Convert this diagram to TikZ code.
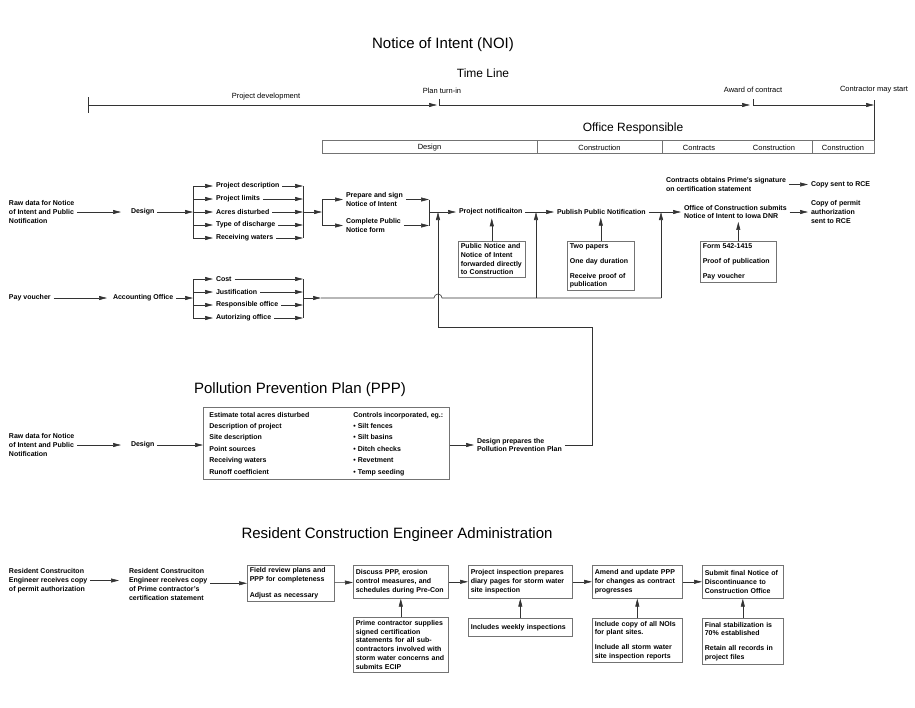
\documentclass[tikz,border=0pt]{standalone}
\usepackage{fontspec}
\setmainfont{Liberation Sans}
\usetikzlibrary{arrows.meta}

\newcommand\flowfont{\fontsize{7}{8.7}\selectfont\bfseries}
\newcommand\timefont{\fontsize{7.5}{9}\selectfont}

\tikzset{
  flow/.style={font=\flowfont, align=left, inner sep=1pt, outer sep=2pt, anchor=west},
  infobox/.style={draw=black!55, line width=0.6pt, font=\flowfont, align=left, inner sep=2.5pt, anchor=north west, text width=#1},
  arrowlink/.style={draw=black!80, line width=0.6pt, -{Triangle[length=8pt,width=4pt]}},
  plainlink/.style={draw=black!80, line width=0.6pt},
  headline/.style={font=\fontsize{15}{18}\selectfont, inner sep=0pt},
  subhead/.style={font=\fontsize{12}{14}\selectfont, inner sep=0pt},
  timelabel/.style={font=\timefont, inner sep=0pt},
}

\begin{document}
\begin{tikzpicture}[x=1pt,y=-1pt]
\useasboundingbox (0,0) rectangle (915,707);

\node[headline] (noi) at (443,45) {Notice of Intent (NOI)};
\node[subhead] (tl) at (483,73) {Time Line};
\node[subhead] (resp) at (633,128) {Office Responsible};

\coordinate (t0) at (88,105);
\coordinate (t1) at (439,105);
\coordinate (t2) at (753,105);
\coordinate (t3) at (874,105);
\draw[plainlink] (88,97) -- (88,113);
\draw[plainlink] (439,99) -- (t1);
\draw[plainlink] (753,99) -- (t2);
\draw[plainlink] (874,100) -- (874,140);
\draw[arrowlink] (t0) -- (437,105);
\draw[arrowlink] (t1) -- (750,105);
\draw[arrowlink] (t2) -- (t3);
\node[timelabel] (dev) at (266,97) {Project development};
\node[timelabel] (turnin) at (442,91) {Plan turn-in};
\node[timelabel] (award) at (753,90) {Award of contract};
\node[timelabel] (start) at (874,90) {Contractor may start};

\draw[plainlink, draw=black!55] (322,140) rectangle (874,153);
\foreach \x in {537,662,812} \draw[plainlink, draw=black!55] (\x,140) -- (\x,153);
\foreach \x/\t [count=\i] in {429.5/Design,599.5/Construction,699/Contracts,774/Construction,843/Construction}
  \node[timelabel] (cell\i) at (\x,148) {\t};

\node[flow] (raw) at (6,212) {Raw data for Notice\\of Intent and Public\\Notification};
\node[flow] (des) at (128,212) {Design};
\draw[arrowlink, shorten >=7pt] (raw) -- (des);
\draw[arrowlink] (des) -- (193,212);
\foreach \t [count=\i] in {Project description,Project limits,Acres disturbed,Type of discharge,Receiving waters} {
  \node[flow] (dat\i) at (213,173+13*\i) {\t};
  \draw[arrowlink] (193,173+13*\i) -- (dat\i);
  \draw[arrowlink] (dat\i) -- (303,173+13*\i);
}
\draw[plainlink] (193,186) -- (193,238);
\draw[plainlink] (303,186) -- (303,238);
\draw[arrowlink] (303,212) -- (322,212);
\draw[plainlink] (322,199.5) -- (322,225.5);
\node[flow] (prep) at (343,199.5) {Prepare and sign\\Notice of Intent};
\node[flow] (comp) at (343,225.5) {Complete Public\\Notice form};
\draw[arrowlink] (322,199.5) -- (prep);
\draw[arrowlink] (322,225.5) -- (comp);
\draw[arrowlink] (prep) -- (429,199.5);
\draw[arrowlink] (comp) -- (429,225.5);
\draw[plainlink] (429,199.5) -- (429,225.5);

\node[flow] (proj) at (456,212) {Project notificaiton};
\node[flow] (pub) at (554,212) {Publish Public Notification};
\node[flow] (office) at (681,212) {Office of Construction submits\\Notice of Intent to Iowa DNR};
\node[flow] (copy) at (808,212) {Copy of permit\\authorization\\sent to RCE};
\node[flow] (contr) at (663,184.5) {Contracts obtains Prime's signature\\on certification statement};
\node[flow] (copyrce) at (808,184.5) {Copy sent to RCE};
\draw[arrowlink] (429,212) -- (proj);
\draw[arrowlink] (proj) -- (pub);
\draw[arrowlink] (pub) -- (office);
\draw[arrowlink] (office) -- (copy);
\draw[arrowlink] (contr) -- (copyrce);

\node[infobox=62pt, minimum height=36pt] (pnbox) at (458,241) {Public Notice and\\Notice of Intent\\forwarded directly\\to Construction};
\node[infobox=62pt, minimum height=49pt] (pubbox) at (567,241) {Two papers\\[6pt]One day duration\\[6pt]Receive proof of\\publication};
\node[infobox=71pt, minimum height=41pt] (offbox) at (700,241) {Form 542-1415\\[6pt]Proof of publication\\[6pt]Pay voucher};
\draw[arrowlink] (pnbox.north) -- (pnbox.north |- proj.south);
\draw[arrowlink] (pubbox.north) -- (pubbox.north |- pub.south);
\draw[arrowlink] (offbox.north) -- (offbox.north |- office.south);

\node[flow] (pay) at (6,298) {Pay voucher};
\node[flow] (acct) at (110,298) {Accounting Office};
\draw[arrowlink, shorten >=3pt] (pay) -- (acct);
\draw[arrowlink] (acct) -- (193,298);
\foreach \t [count=\i] in {Cost,Justification,Responsible office,Autorizing office} {
  \node[flow] (acc\i) at (213,266+13*\i) {\t};
  \draw[arrowlink] (193,266+13*\i) -- (acc\i);
  \draw[arrowlink] (acc\i) -- (303,266+13*\i);
}
\draw[plainlink] (193,279) -- (193,318);
\draw[plainlink] (303,279) -- (303,318);
\draw[arrowlink] (303,298) -- (321,298);
\draw[plainlink] (321,298) -- (434,298) arc[start angle=180, end angle=0, radius=4pt] -- (661,298);
\draw[arrowlink] (536,298) -- (536,212);
\draw[arrowlink] (661,298) -- (661,212);

\node[headline] (ppp) at (300,390) {Pollution Prevention Plan (PPP)};
\node[flow] (praw) at (6,445) {Raw data for Notice\\of Intent and Public\\Notification};
\node[flow] (pdes) at (128,445) {Design};
\node[draw=black!55, line width=0.6pt, font=\flowfont, minimum width=246pt, minimum height=72pt, inner sep=0pt, anchor=north west] (pbox) at (203,407)
  {\def\arraystretch{1.31}\begin{tabular}{@{}p{144pt}@{}l@{}}
  Estimate total acres disturbed & Controls incorporated, eg.:\\
  Description of project & \textbullet{} Silt fences\\
  Site description & \textbullet{} Silt basins\\
  Point sources & \textbullet{} Ditch checks\\
  Receiving waters & \textbullet{} Revetment\\
  Runoff coefficient & \textbullet{} Temp seeding
  \end{tabular}};
\node[flow] (dprep) at (474,445) {Design prepares the\\Pollution Prevention Plan};
\coordinate (pturn) at (592,327);
\draw[arrowlink, shorten >=7pt] (praw) -- (pdes);
\draw[arrowlink] (pdes) -- (pdes -| pbox.west);
\draw[arrowlink] (pbox.east |- dprep) -- (dprep);
\draw[arrowlink] (dprep.east) -| (pturn) -- (438,327) -- (438,212);

\node[headline] (rce) at (397,535) {Resident Construction Engineer Administration};
\node[flow] (rce1) at (6,580.5) {Resident Construciton\\Engineer receives copy\\of permit authorization};
\node[flow] (rce2) at (126,584.5) {Resident Construciton\\Engineer receives copy\\of Prime contractor's\\certification statement};
\node[infobox=82pt, minimum height=33pt] (field) at (247,565) {Field review plans and\\PPP for completeness\\[7pt]Adjust as necessary};
\node[infobox=90pt, minimum height=33pt] (disc) at (353,565) {Discuss PPP, erosion\\control measures, and\\schedules during Pre-Con};
\node[infobox=99pt, minimum height=33pt] (insp) at (468,565) {Project inspection prepares\\diary pages for storm water\\site inspection};
\node[infobox=85pt, minimum height=33pt] (amend) at (592,565) {Amend and update PPP\\for changes as contract\\progresses};
\node[infobox=76pt, minimum height=33pt] (submit) at (702,565) {Submit final Notice of\\Discontinuance to\\Construction Office};
\node[infobox=90pt, minimum height=55pt] (prime) at (353,617) {Prime contractor supplies\\signed certification\\statements for all sub-\\contractors involved with\\storm water concerns and\\submits ECIP};
\node[infobox=99pt, minimum height=18pt] (weekly) at (468,618) {Includes weekly inspections};
\node[infobox=85pt, minimum height=44pt] (nois) at (592,618) {Include copy of all NOIs\\for plant sites.\\[6pt]Include all storm water\\site inspection reports};
\node[infobox=76pt, minimum height=46pt] (final) at (702,618) {Final stabilization is\\70\% established\\[6pt]Retain all records in\\project files};
\draw[arrowlink, shorten >=7pt] (rce1.east) -- (rce1.east -| rce2.west);
\draw[arrowlink] (rce2.east |- field.west) -- (field.west);
\draw[arrowlink] (field) -- (disc);
\draw[arrowlink] (disc) -- (insp);
\draw[arrowlink] (insp) -- (amend);
\draw[arrowlink] (amend) -- (submit);
\draw[arrowlink] (prime.north) -- (disc.south);
\draw[arrowlink] (weekly.north) -- (insp.south);
\draw[arrowlink] (nois.north) -- (amend.south);
\draw[arrowlink] (final.north) -- (submit.south);
\end{tikzpicture}
\end{document}
